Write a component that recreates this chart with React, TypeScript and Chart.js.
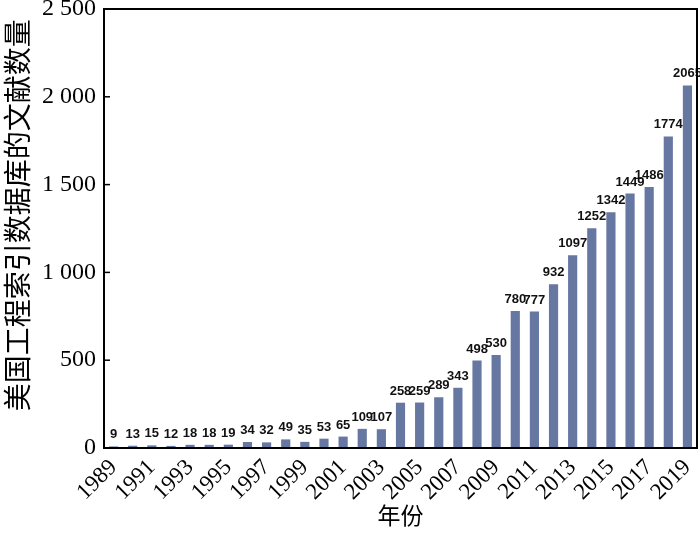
import React, { useEffect, useRef } from 'react';
import { Chart, registerables } from 'chart.js';

Chart.register(...registerables);

const years = [
  '1989', '1990', '1991', '1992', '1993', '1994', '1995', '1996', '1997', '1998',
  '1999', '2000', '2001', '2002', '2003', '2004', '2005', '2006', '2007', '2008',
  '2009', '2010', '2011', '2012', '2013', '2014', '2015', '2016', '2017', '2018', '2019',
];
const counts = [
  9, 13, 15, 12, 18, 18, 19, 34, 32, 49,
  35, 53, 65, 109, 107, 258, 259, 289, 343, 498,
  530, 780, 777, 932, 1097, 1252, 1342, 1449, 1486, 1774, 2065,
];
const yMin = 0;
const yMax = 2500;
const yStep = 500;
const yTitle = '美国工程索引数据库的文献数量';
const xTitle = '年份';

const fmt = (v: number) => {
  const s = String(Math.round(v));
  return s.length > 3 ? s.slice(0, s.length - 3) + ' ' + s.slice(-3) : s;
};

const valueLabels = {
  id: 'valueLabels',
  afterDatasetsDraw(chart: any) {
    const ctx = chart.ctx;
    const meta = chart.getDatasetMeta(0);
    ctx.save();
    ctx.font = 'bold 13px "Liberation Sans", Arial, sans-serif';
    ctx.fillStyle = '#111';
    ctx.textAlign = 'center';
    ctx.textBaseline = 'alphabetic';
    meta.data.forEach((bar: any, i: number) => {
      ctx.fillText(String(counts[i]), bar.x, bar.y - 8);
    });
    ctx.restore();
  },
};

const frame = {
  id: 'frame',
  afterDraw(chart: any) {
    const { ctx, chartArea } = chart;
    const { left, right, top, bottom } = chartArea;
    const y = chart.scales.y;
    ctx.save();
    ctx.strokeStyle = '#000';
    ctx.lineWidth = 2;
    ctx.strokeRect(left, top, right - left, bottom - top);
    ctx.lineWidth = 1.5;
    y.ticks.forEach((t: any) => {
      const py = y.getPixelForValue(t.value);
      ctx.beginPath();
      ctx.moveTo(left, py);
      ctx.lineTo(left + 6, py);
      ctx.stroke();
    });
    // y-axis title, placed a little above the plot's vertical centre as in the reference
    ctx.translate(17, top + (bottom - top) * 0.47);
    ctx.rotate(-Math.PI / 2);
    ctx.font = '28px "Noto Sans CJK SC", sans-serif';
    ctx.fillStyle = '#000';
    ctx.textAlign = 'center';
    ctx.textBaseline = 'middle';
    ctx.fillText(yTitle, 0, 0);
    ctx.restore();
  },
};

export default function App() {
  const ref = useRef<HTMLCanvasElement | null>(null);
  useEffect(() => {
    if (!ref.current) return;
    const chart = new Chart(ref.current, {
      type: 'bar',
      data: {
        labels: years,
        datasets: [
          {
            data: counts,
            backgroundColor: '#6677a2',
            barPercentage: 0.48,
            categoryPercentage: 1,
          },
        ],
      },
      options: {
        animation: false,
        responsive: false,
        maintainAspectRatio: false,
        layout: { padding: { top: 0, right: 3, left: 0, bottom: 11 } },
        plugins: { legend: { display: false }, tooltip: { enabled: false } },
        scales: {
          x: {
            offset: true,
            grid: { display: false, drawTicks: false },
            border: { display: false },
            afterFit: (s: any) => {
              s.paddingRight = 0;
              s.paddingLeft = 0;
              s.height = 81;
            },
            ticks: {
              autoSkip: false,
              minRotation: 45,
              maxRotation: 45,
              padding: 6,
              color: '#000',
              font: { family: '"Liberation Serif", "Times New Roman", serif', size: 23 },
              callback: (_v: any, i: number) => (i % 2 === 0 ? years[i] : ''),
            },
            title: {
              display: true,
              text: xTitle,
              color: '#000',
              font: { family: '"Noto Sans CJK SC", sans-serif', size: 23 },
              padding: { top: 0, bottom: 0 },
            },
          },
          y: {
            min: yMin,
            max: yMax,
            grid: { display: false, drawTicks: false },
            border: { display: false },
            afterFit: (s: any) => {
              s.paddingTop = 9;
              s.paddingBottom = 0;
              s.width = 104;
            },
            ticks: {
              stepSize: yStep,
              padding: 8,
              color: '#000',
              font: { family: '"Liberation Serif", "Times New Roman", serif', size: 24 },
              callback: (v: any) => fmt(Number(v)),
            },
            title: { display: false },
          },
        },
      },
      plugins: [valueLabels, frame],
    });
    return () => chart.destroy();
  }, []);
  return (
    <div style={{ position: 'absolute', left: 0, top: 0, width: 700, height: 540, background: '#fff' }}>
      <canvas ref={ref} width={700} height={540} style={{ width: 700, height: 540 }} />
    </div>
  );
}
